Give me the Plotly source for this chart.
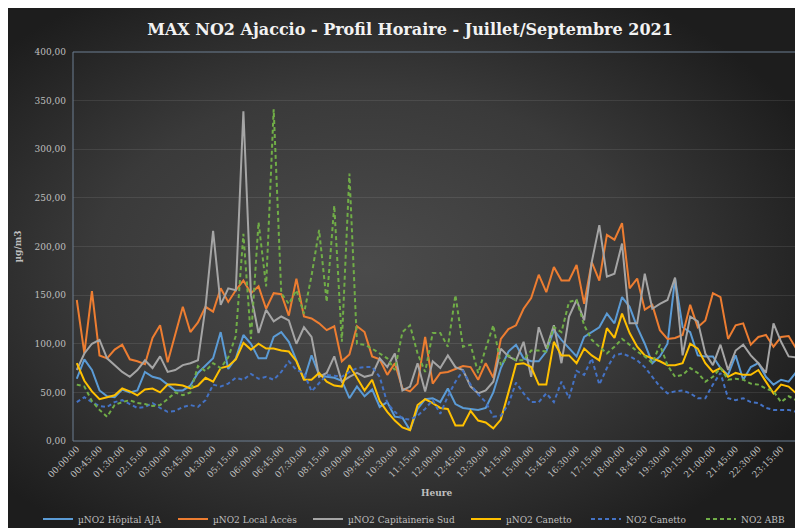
import base64
import plotly.graph_objects as go

# ---- data ----
times = [f"{h:02d}:{m:02d}:00" for h in range(24) for m in (0, 15, 30, 45)]

hopital_aja = [64, 84, 73, 52, 46, 45, 53, 50, 52, 71, 66, 64, 58, 52, 52, 57, 70, 78, 85, 112,
               74, 85, 109, 100, 85, 85, 107, 112, 102, 83, 63, 88, 68, 66, 65, 62, 44, 56, 46, 53,
               35, 40, 25, 24, 11, 33, 43, 44, 40, 54, 38, 34, 33, 32, 34, 50, 75, 92, 99, 85,
               82, 82, 92, 114, 104, 95, 87, 107, 112, 117, 131, 121, 148, 138, 117, 100, 80, 87, 100, 167,
               117, 112, 88, 87, 87, 75, 68, 88, 63, 76, 80, 66, 58, 63, 61, 71]

local_acces = [145, 90, 154, 88, 85, 94, 99, 84, 82, 79, 106, 119, 81, 110, 138, 112, 122, 138, 133, 157,
               143, 155, 165, 152, 159, 136, 152, 151, 129, 167, 128, 126, 121, 114, 118, 82, 89, 118, 112, 87,
               84, 68, 80, 54, 51, 59, 107, 59, 70, 71, 74, 77, 76, 63, 80, 65, 105, 115, 119, 136,
               147, 171, 153, 179, 165, 165, 181, 141, 184, 165, 212, 207, 224, 157, 167, 135, 140, 114, 105, 106,
               109, 140, 117, 124, 152, 148, 105, 119, 121, 99, 107, 109, 97, 107, 108, 95]

capitainerie_sud = [73, 90, 100, 104, 85, 78, 71, 66, 73, 83, 75, 87, 71, 73, 78, 80, 83, 138, 216, 140,
                    157, 155, 339, 150, 111, 135, 123, 128, 124, 100, 117, 107, 66, 70, 87, 61, 66, 70, 66, 68,
                    85, 76, 90, 52, 56, 80, 51, 82, 75, 88, 76, 73, 56, 49, 52, 61, 95, 87, 83, 102,
                    66, 117, 95, 119, 80, 128, 145, 124, 184, 222, 169, 172, 203, 121, 121, 172, 136, 141, 145, 168,
                    88, 128, 123, 90, 78, 99, 73, 93, 99, 88, 80, 70, 121, 102, 87, 86]

micro_canetto = [80, 62, 51, 43, 45, 47, 54, 51, 47, 53, 54, 50, 58, 58, 57, 54, 57, 65, 61, 75,
                 77, 84, 101, 94, 100, 95, 95, 93, 92, 82, 63, 63, 70, 61, 57, 56, 78, 65, 52, 63,
                 41, 30, 21, 14, 11, 37, 43, 39, 34, 33, 16, 16, 31, 21, 19, 13, 22, 50, 79, 80,
                 76, 58, 58, 102, 88, 88, 80, 95, 88, 83, 116, 106, 131, 111, 97, 88, 85, 82, 78, 78,
                 80, 100, 95, 80, 71, 75, 66, 70, 68, 68, 73, 61, 49, 58, 56, 49]

no2_canetto = [40, 45, 40, 36, 35, 40, 42, 38, 34, 35, 39, 34, 30, 31, 35, 37, 35, 42, 58, 56,
               59, 65, 63, 69, 64, 66, 63, 71, 82, 73, 70, 51, 59, 68, 67, 66, 71, 75, 76, 76,
               66, 39, 30, 23, 22, 26, 33, 42, 28, 46, 61, 72, 58, 48, 40, 25, 26, 38, 60, 49,
               40, 40, 49, 40, 61, 44, 72, 68, 85, 58, 75, 88, 90, 87, 83, 76, 66, 56, 49, 51,
               52, 49, 44, 44, 58, 70, 44, 42, 44, 40, 39, 34, 32, 32, 32, 30]

no2_abb = [58, 56, 41, 32, 25, 37, 40, 42, 39, 38, 36, 37, 43, 50, 47, 50, 77, 72, 80, 75,
           86, 108, 213, 105, 225, 159, 341, 152, 141, 155, 131, 170, 217, 143, 242, 102, 275, 100, 99, 95,
           90, 85, 73, 112, 119, 90, 71, 111, 111, 97, 150, 97, 99, 70, 95, 119, 78, 88, 83, 83,
           93, 93, 92, 117, 112, 143, 145, 119, 104, 97, 90, 97, 105, 99, 92, 87, 80, 99, 78, 66,
           68, 75, 70, 61, 66, 75, 63, 64, 63, 59, 58, 54, 51, 40, 46, 42]

y_tickvals = [0, 50, 100, 150, 200, 250, 300, 350, 400]
y_ticktext = ["0,00", "50,00", "100,00", "150,00", "200,00", "250,00", "300,00", "350,00", "400,00"]
x_tickvals = times[::3]

series = [
    ("µNO2 Hôpital AJA", hopital_aja, "#5B9BD5", "solid"),
    ("µNO2 Local Accès", local_acces, "#ED7D31", "solid"),
    ("µNO2 Capitainerie Sud", capitainerie_sud, "#A5A5A5", "solid"),
    ("µNO2 Canetto", micro_canetto, "#FFC000", "solid"),
    ("NO2 Canetto", no2_canetto, "#4472C4", "4px,3px"),
    ("NO2 ABB", no2_abb, "#70AD47", "4px,3px"),
]

# ---- geometry (page has an 8px body margin; figure fills the rest of the window) ----
OFF = 8
W, H = 803 - OFF, 528 - OFF
# target plot box in window pixels: x 73..800, y 52..441
L, R, T, B = 73 - OFF, W - (800 - OFF), 52 - OFF, H - (441 - OFF)
PW, PH = W - L - R, H - T - B

def px_x(p):  # window pixel -> paper x
    return (p - OFF - L) / PW

def px_y(p):  # window pixel -> paper y
    return (H - B - (p - OFF)) / PH

FONT = "DejaVu Serif"
TXT = "#bfbfbf"

fig = go.Figure()
legend_starts = [45, 180, 315, 473, 593, 708]
for k, (name, vals, color, dash) in enumerate(series):
    lg = "legend" if k == 0 else f"legend{k+1}"
    fig.add_trace(go.Scatter(
        x=times, y=vals, name=name, mode="lines",
        line=dict(color=color, width=2, dash=dash),
        legend=lg,
    ))

legends = {}
for k, xs in enumerate(legend_starts):
    key = "legend" if k == 0 else f"legend{k+1}"
    legends[key] = dict(
        x=px_x(xs - 7), y=px_y(519), xanchor="left", yanchor="middle",
        orientation="h", bgcolor="rgba(0,0,0,0)", borderwidth=0,
        font=dict(family=FONT, size=9, color=TXT),
        tracegroupgap=0, itemwidth=30,
    )

svg = (
    '<svg xmlns="http://www.w3.org/2000/svg" width="800" height="520" viewBox="0 0 800 520" preserveAspectRatio="none">'
    '<defs><radialGradient id="g" cx="45%" cy="50%" r="62%" fx="45%" fy="50%">'
    '<stop offset="0%" stop-color="#4b4b4b"/>'
    '<stop offset="55%" stop-color="#3a3a3a"/>'
    '<stop offset="100%" stop-color="#1d1d1d"/>'
    '</radialGradient></defs>'
    '<rect x="0" y="0" width="800" height="520" fill="url(#g)"/></svg>'
)
src = "data:image/svg+xml;base64," + base64.b64encode(svg.encode()).decode()

fig.update_layout(
    width=W, height=H,
    margin=dict(l=L, r=R, t=T, b=B, autoexpand=False),
    paper_bgcolor="#2e2e2e",
    plot_bgcolor="rgba(0,0,0,0)",
    images=[dict(
        source=src, xref="paper", yref="paper",
        x=-L / PW, y=1 + T / PH, sizex=W / PW, sizey=H / PH,
        xanchor="left", yanchor="top", sizing="stretch", layer="below",
    )],
    showlegend=True,
    **legends,
    title=dict(
        text="MAX NO2 Ajaccio - Profil Horaire - Juillet/Septembre 2021",
        x=px_x(410), xanchor="center", xref="paper",
        y=1 - (29 - OFF) / H, yanchor="middle",
        font=dict(family=FONT, size=16, color="#f2f2f2", weight="bold"),
    ),
    xaxis=dict(
        type="category", range=[-0.5, 95.5],
        tickmode="array", tickvals=x_tickvals, ticktext=x_tickvals,
        tickangle=-45, showgrid=False, zeroline=False,
        tickfont=dict(family=FONT, size=9, color=TXT),
        showline=False, ticks="",
    ),
    yaxis=dict(
        range=[0, 400], tickmode="array", tickvals=y_tickvals, ticktext=y_ticktext,
        showgrid=True, gridcolor="rgba(255,255,255,0.09)", gridwidth=1, zeroline=False,
        tickfont=dict(family=FONT, size=9, color=TXT), ticks="", ticklabelstandoff=6,
        showline=False,
    ),
    shapes=[dict(type="rect", xref="paper", yref="paper", x0=0, y0=0, x1=1, y1=1,
                 line=dict(color="#6d7f92", width=1), fillcolor="rgba(0,0,0,0)", layer="above")],
    annotations=[
        dict(text="Heure", xref="paper", yref="paper", x=px_x(437), y=px_y(493),
             showarrow=False, xanchor="center", yanchor="middle",
             font=dict(family=FONT, size=9, color=TXT, weight="bold")),
        dict(text="µg/m3", xref="paper", yref="paper", x=px_x(17), y=0.5, textangle=-90,
             showarrow=False, xanchor="center", yanchor="middle",
             font=dict(family=FONT, size=9, color=TXT, weight="bold")),
    ],
)

fig.write_html("out.html")
